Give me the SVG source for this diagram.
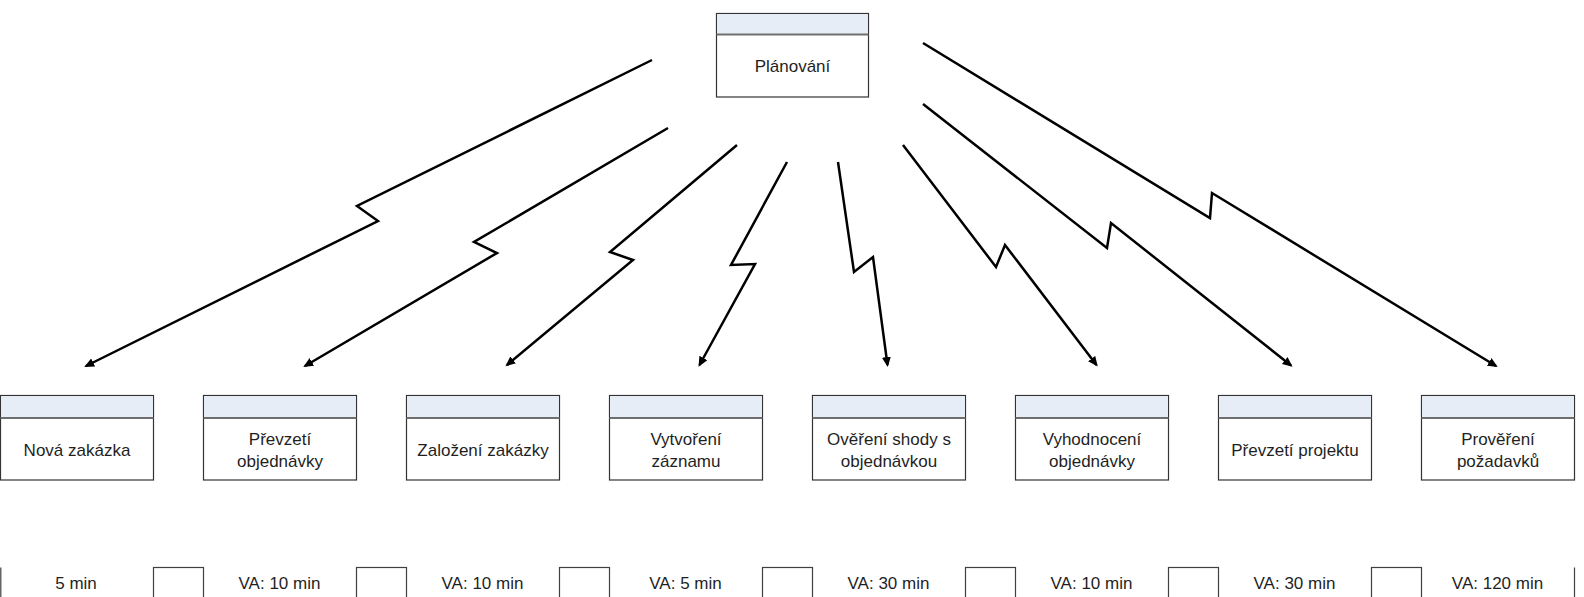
<svg xmlns="http://www.w3.org/2000/svg" width="1584" height="597" viewBox="0 0 1584 597">
  <style>
    .box { fill: #ffffff; stroke: #333333; stroke-width: 1.2; }
    .head { fill: #e6edf7; stroke: none; }
    .divider { stroke: #6e6e6e; stroke-width: 2; }
    .label { font-family: "Liberation Sans", Arial, sans-serif; font-size: 17px; fill: #1f1f1f; text-anchor: middle; }
    .flow { fill: none; stroke: #000000; stroke-width: 2.5; stroke-linejoin: miter; marker-end: url(#arrow); }
    .cell { fill: #ffffff; stroke: #404040; stroke-width: 1.2; }
    .edge { stroke: #404040; stroke-width: 1.2; }
  </style>
  <defs>
    <marker id="arrow" markerUnits="userSpaceOnUse" markerWidth="12" markerHeight="10" refX="8" refY="4.5" orient="auto">
      <path d="M0,0 L10,4.5 L0,9 z" fill="#000000"/>
    </marker>
  </defs>

  <rect width="1584" height="597" fill="#ffffff"/>

  <!-- parent process -->
  <g id="planovani">
    <rect class="box" x="716.5" y="13.5" width="152" height="83.5"/>
    <rect class="head" x="717.1" y="14.1" width="150.8" height="20.4"/>
    <line class="divider" x1="716.5" y1="34.5" x2="868.5" y2="34.5"/>
    <text class="label" x="792.5" y="72">Plánování</text>
  </g>

  <!-- process steps -->
  <g id="nova-zakazka" transform="translate(0.5,0)">
    <rect class="box" x="0" y="395.5" width="153" height="84.5"/>
    <rect class="head" x="0.6" y="396.1" width="151.8" height="21.4"/>
    <line class="divider" x1="0" y1="418" x2="153" y2="418"/>
    <text class="label" x="76.5" y="456">Nová zakázka</text>
  </g>
  <g id="prevzeti-objednavky" transform="translate(203.5,0)">
    <rect class="box" x="0" y="395.5" width="153" height="84.5"/>
    <rect class="head" x="0.6" y="396.1" width="151.8" height="21.4"/>
    <line class="divider" x1="0" y1="418" x2="153" y2="418"/>
    <text class="label" x="76.5" y="445">Převzetí</text>
    <text class="label" x="76.5" y="467">objednávky</text>
  </g>
  <g id="zalozeni-zakazky" transform="translate(406.5,0)">
    <rect class="box" x="0" y="395.5" width="153" height="84.5"/>
    <rect class="head" x="0.6" y="396.1" width="151.8" height="21.4"/>
    <line class="divider" x1="0" y1="418" x2="153" y2="418"/>
    <text class="label" x="76.5" y="456">Založení zakázky</text>
  </g>
  <g id="vytvoreni-zaznamu" transform="translate(609.5,0)">
    <rect class="box" x="0" y="395.5" width="153" height="84.5"/>
    <rect class="head" x="0.6" y="396.1" width="151.8" height="21.4"/>
    <line class="divider" x1="0" y1="418" x2="153" y2="418"/>
    <text class="label" x="76.5" y="445">Vytvoření</text>
    <text class="label" x="76.5" y="467">záznamu</text>
  </g>
  <g id="overeni-shody" transform="translate(812.5,0)">
    <rect class="box" x="0" y="395.5" width="153" height="84.5"/>
    <rect class="head" x="0.6" y="396.1" width="151.8" height="21.4"/>
    <line class="divider" x1="0" y1="418" x2="153" y2="418"/>
    <text class="label" x="76.5" y="445">Ověření shody s</text>
    <text class="label" x="76.5" y="467">objednávkou</text>
  </g>
  <g id="vyhodnoceni-objednavky" transform="translate(1015.5,0)">
    <rect class="box" x="0" y="395.5" width="153" height="84.5"/>
    <rect class="head" x="0.6" y="396.1" width="151.8" height="21.4"/>
    <line class="divider" x1="0" y1="418" x2="153" y2="418"/>
    <text class="label" x="76.5" y="445">Vyhodnocení</text>
    <text class="label" x="76.5" y="467">objednávky</text>
  </g>
  <g id="prevzeti-projektu" transform="translate(1218.5,0)">
    <rect class="box" x="0" y="395.5" width="153" height="84.5"/>
    <rect class="head" x="0.6" y="396.1" width="151.8" height="21.4"/>
    <line class="divider" x1="0" y1="418" x2="153" y2="418"/>
    <text class="label" x="76.5" y="456">Převzetí projektu</text>
  </g>
  <g id="provereni-pozadavku" transform="translate(1421.5,0)">
    <rect class="box" x="0" y="395.5" width="153" height="84.5"/>
    <rect class="head" x="0.6" y="396.1" width="151.8" height="21.4"/>
    <line class="divider" x1="0" y1="418" x2="153" y2="418"/>
    <text class="label" x="76.5" y="445">Prověření</text>
    <text class="label" x="76.5" y="467">požadavků</text>
  </g>

  <!-- lightning connectors -->
  <g id="connectors">
    <polyline class="flow" points="652,60 357,206 378,221 86,366"/>
    <polyline class="flow" points="668,128 474,242 497,253 305,366"/>
    <polyline class="flow" points="737,145 610,252 633,260 507,365"/>
    <polyline class="flow" points="787,162 731,265 755,264 699.5,365"/>
    <polyline class="flow" points="838,162 854,272 873,257 887.5,365"/>
    <polyline class="flow" points="903,145 996,267 1005,245 1096.5,365"/>
    <polyline class="flow" points="923,104 1107,248 1111,223 1291,365.5"/>
    <polyline class="flow" points="923,43 1210,218 1212,193 1496,366"/>
  </g>

  <!-- time line -->
  <g id="timeline">
    <line class="edge" x1="0.8" y1="567.5" x2="0.8" y2="600"/>
    <line class="edge" x1="1574.5" y1="567.5" x2="1574.5" y2="600"/>
    <rect class="cell" x="153.5" y="567.5" width="50" height="40"/>
    <rect class="cell" x="356.5" y="567.5" width="50" height="40"/>
    <rect class="cell" x="559.5" y="567.5" width="50" height="40"/>
    <rect class="cell" x="762.5" y="567.5" width="50" height="40"/>
    <rect class="cell" x="965.5" y="567.5" width="50" height="40"/>
    <rect class="cell" x="1168.5" y="567.5" width="50" height="40"/>
    <rect class="cell" x="1371.5" y="567.5" width="50" height="40"/>
    <text class="label" x="76" y="589">5 min</text>
    <text class="label" x="279.5" y="589">VA: 10 min</text>
    <text class="label" x="482.5" y="589">VA: 10 min</text>
    <text class="label" x="685.5" y="589">VA: 5 min</text>
    <text class="label" x="888.5" y="589">VA: 30 min</text>
    <text class="label" x="1091.5" y="589">VA: 10 min</text>
    <text class="label" x="1294.5" y="589">VA: 30 min</text>
    <text class="label" x="1497.5" y="589">VA: 120 min</text>
  </g>
</svg>
